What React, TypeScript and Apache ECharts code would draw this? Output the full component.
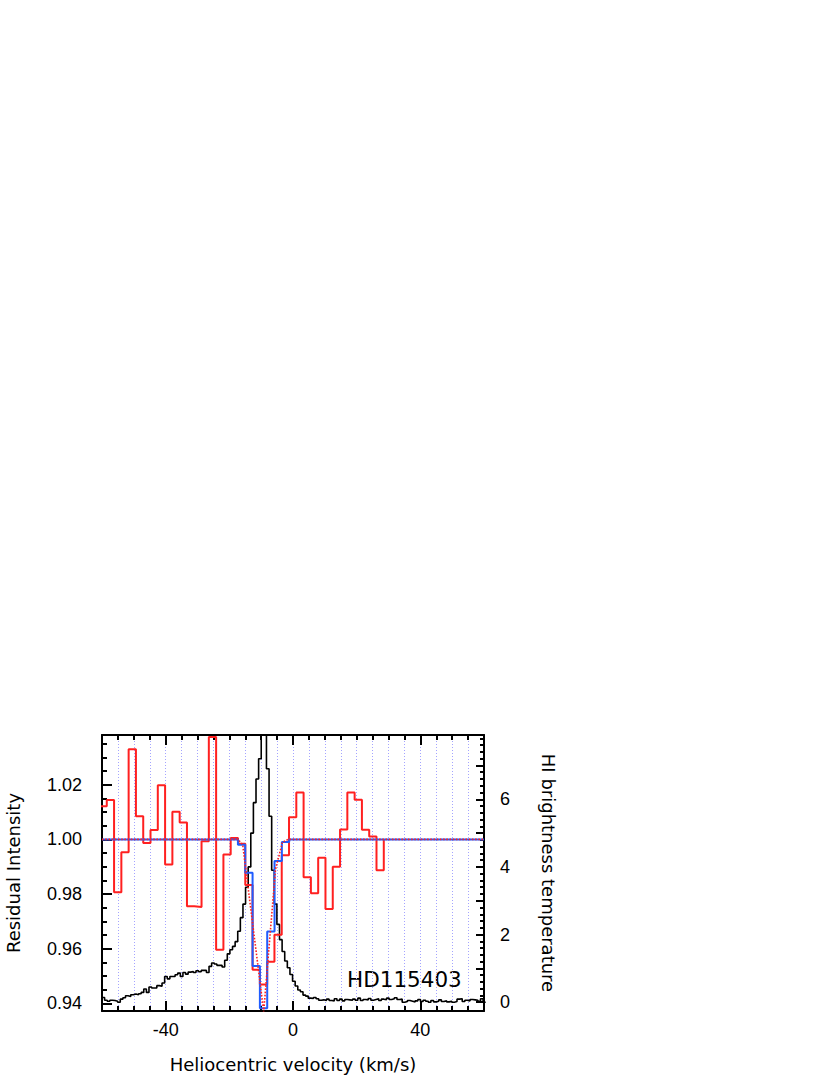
import React, { useEffect, useRef } from "react";
import * as echarts from "echarts";

// ---- Residual intensity (red histogram), bins of 2.29 km/s starting at -60.79
const RED_START = -60.79;
const RED_WIDTH = 2.29;
const redValues = [
  1.0121, 1.0144, 0.9807, 0.9953, 1.033, 1.0085, 0.9987, 1.0034, 1.0198, 0.9908,
  1.0101, 1.0062, 0.9755, 0.9753, 0.9993, 1.0375, 0.9596, 0.9945, 1.0005, 0.9984,
  0.9833, 0.9523, 0.9469, 0.9552, 0.9651, 0.9942, 1.0081, 1.0172, 0.9861, 0.9803,
  0.9933, 0.9745, 0.99, 1.0036, 1.0172, 1.0145, 1.0035, 1.0011, 0.9887,
];
const RED_END_VALUE = 1.0;

// ---- Model (blue step) at instrument bins
const blueVelocity = [-60, -17.3, -15.0, -12.7, -10.4, -8.1, -5.8, -3.5, -1.2, 60];
const blueValues = [1.0, 0.998, 0.9878, 0.9537, 0.9382, 0.9663, 0.9921, 0.999, 1.0, 1.0];

// ---- Intrinsic model (red dotted)
const dottedVelocity = [-60, -17.3, -15.8, -9.2, -5.5, -3.3, -1.5, 60];
const dottedValues = [1.0, 1.0, 0.998, 0.937, 0.989, 0.999, 1.0, 1.0];

// ---- HI brightness temperature (black), channels of 0.82 km/s starting at -60
const HI_START = -60;
const HI_WIDTH = 0.82;
const hiTemp = [
  0.14, 0.06, 0.03, 0.06, 0.05, 0.03, 0.0, 0.09, 0.13, 0.19,
  0.17, 0.22, 0.24, 0.22, 0.25, 0.29, 0.39, 0.29, 0.45, 0.42,
  0.42, 0.49, 0.47, 0.57, 0.76, 0.69, 0.76, 0.76, 0.81, 0.86,
  0.76, 0.88, 0.83, 0.89, 0.91, 0.88, 0.93, 0.9, 0.94, 0.94,
  0.88, 1.06, 1.16, 1.13, 1.09, 1.09, 1.04, 1.24, 1.43, 1.55,
  1.65, 1.79, 2.1, 2.5, 2.9, 3.4, 4.0, 5.0, 5.9, 6.6,
  7.2, 8.2, 8.2, 6.9, 5.5, 3.9, 2.9, 2.3, 1.85, 1.5,
  1.22, 1.02, 0.82, 0.62, 0.48, 0.36, 0.31, 0.21, 0.18, 0.12,
  0.11, 0.14, 0.1, 0.06, 0.07, 0.05, 0.09, 0.05, 0.04, 0.1,
  0.05, 0.09, 0.04, 0.08, 0.07, 0.06, 0.09, 0.06, 0.12, 0.05,
  0.08, 0.07, 0.11, 0.06, 0.08, 0.1, 0.05, 0.09, 0.07, 0.12,
  0.08, 0.1, 0.13, 0.08, 0.09, 0.0, 0.02, 0.05, 0.03, 0.01,
  0.04, 0.08, 0.02, 0.06, 0.03, 0.0, 0.05, 0.01, 0.03, 0.07,
  0.02, 0.04, 0.01, 0.03, 0.0, 0.02, 0.09, 0.1, 0.02, 0.06,
  0.04, 0.08, 0.07, 0.06, 0.03, 0.1, 0.0,
];

// ---- Axes
const X_MIN = -60;
const X_MAX = 60;
const xLabels = [-40, 0, 40];
const leftMin = 0.9372;
const leftMax = 1.0382;
const leftLabels = [0.94, 0.96, 0.98, 1.0, 1.02];
const rightMin = -0.26;
const rightMax = 7.9;
const rightLabels = [0, 2, 4, 6];
const rightMajorTicks = [0, 1, 2, 3, 4, 5, 6, 7];

const LABEL = "HD115403";

function range(a: number, b: number, step: number): number[] {
  const out: number[] = [];
  const n = Math.round((b - a) / step);
  for (let i = 0; i <= n; i++) out.push(+(a + i * step).toFixed(6));
  return out;
}

export default function App() {
  const ref = useRef<HTMLDivElement>(null);
  useEffect(() => {
    document.body.style.margin = "0";
    if (!ref.current) return;
    const chart = echarts.init(ref.current, null, { renderer: "svg" });

    const redData: number[][] = redValues.map((v, i) => [RED_START + i * RED_WIDTH, v]);
    redData.push([RED_START + redValues.length * RED_WIDTH, RED_END_VALUE]);
    const hiData: number[][] = hiTemp.map((v, i) => [HI_START + i * HI_WIDTH, v]);
    hiData.push([HI_START + hiTemp.length * HI_WIDTH, hiTemp[hiTemp.length - 1]]);
    const blueData = blueVelocity.map((v, i) => [v, blueValues[i]]);
    const dottedData = dottedVelocity.map((v, i) => [v, dottedValues[i]]);

    const tickFont = { fontFamily: "Liberation Sans", fontSize: 18, color: "#000" };
    const nameFont = { fontFamily: "DejaVu Sans", fontSize: 18, color: "#000" };
    const frame = { show: true, onZero: false, lineStyle: { color: "#000", width: 2 } };
    const noLine = { show: false, onZero: false };

    const xAxisOf = (pos: string, ticks: number[], len: number, opts: any = {}) => ({
      type: "value",
      position: pos,
      min: X_MIN,
      max: X_MAX,
      axisLine: noLine,
      axisTick: {
        show: true,
        inside: true,
        length: len,
        customValues: ticks,
        lineStyle: { color: "#000", width: 2 },
      },
      axisLabel: { show: false },
      splitLine: { show: false },
      ...opts,
    });
    const yAxisOf = (pos: string, min: number, max: number, ticks: number[], len: number, opts: any = {}) => ({
      type: "value",
      position: pos,
      min,
      max,
      axisLine: noLine,
      axisTick: {
        show: true,
        inside: true,
        length: len,
        customValues: ticks,
        lineStyle: { color: "#000", width: 2 },
      },
      axisLabel: { show: false },
      splitLine: { show: false },
      ...opts,
    });

    const xMinor = range(-55, 55, 5);

    const option: any = {
      animation: false,
      backgroundColor: "#fff",
      grid: { left: 102, top: 735, width: 382, height: 276, containLabel: false },
      xAxis: [
        xAxisOf("bottom", xMinor, 5, {
          interval: 5,
          splitLine: { show: true, lineStyle: { color: "#a4a4ff", type: [1, 2], width: 1 } },
        }),
        xAxisOf("bottom", xLabels, 10, {
          axisLine: frame,
          axisLabel: { show: true, customValues: xLabels, margin: 10, ...tickFont },
          name: "Heliocentric velocity (km/s)",
          nameLocation: "middle",
          nameGap: 44,
          nameTextStyle: nameFont,
        }),
        xAxisOf("top", xLabels, 10, { axisLine: frame }),
        xAxisOf("top", xMinor, 5),
      ],
      yAxis: [
        yAxisOf("left", leftMin, leftMax, leftLabels, 10, {
          axisLine: frame,
          axisLabel: {
            show: true,
            customValues: leftLabels,
            formatter: (v: number) => v.toFixed(2),
            margin: 20,
            ...tickFont,
          },
          name: "Residual Intensity",
          nameLocation: "middle",
          nameRotate: 90,
          nameGap: 80,
          nameTextStyle: nameFont,
        }),
        yAxisOf("left", leftMin, leftMax, range(0.94, 1.035, 0.005), 5),
        yAxisOf("right", rightMin, rightMax, rightMajorTicks, 8, {
          axisLine: frame,
          axisLabel: { show: true, customValues: rightLabels, margin: 16, ...tickFont },
          name: "HI brightness temperature",
          nameLocation: "middle",
          nameRotate: -90,
          nameGap: 55,
          nameTextStyle: nameFont,
        }),
        yAxisOf("right", rightMin, rightMax, range(0, 7.8, 0.2), 4),
      ],
      series: [
        {
          name: "HI",
          type: "line",
          xAxisIndex: 0,
          yAxisIndex: 2,
          step: "end",
          data: hiData,
          showSymbol: false,
          clip: true,
          lineStyle: { color: "#000", width: 1.6 },
        },
        {
          name: "Residual",
          type: "line",
          xAxisIndex: 0,
          yAxisIndex: 0,
          step: "end",
          data: redData,
          showSymbol: false,
          clip: true,
          lineStyle: { color: "#ff2020", width: 2 },
        },
        {
          name: "Model",
          type: "line",
          xAxisIndex: 0,
          yAxisIndex: 0,
          step: "end",
          data: blueData,
          showSymbol: false,
          clip: true,
          lineStyle: { color: "#1f5cff", width: 2 },
        },
        {
          name: "Intrinsic",
          type: "line",
          xAxisIndex: 0,
          yAxisIndex: 0,
          data: dottedData,
          showSymbol: false,
          clip: true,
          lineStyle: { color: "#ff2020", width: 1.6, type: "dotted" },
        },
      ],
      graphic: [
        {
          type: "text",
          left: 347,
          top: 968,
          style: {
            text: LABEL,
            fontFamily: "DejaVu Sans",
            fontSize: 21.5,
            fill: "#000",
          },
        },
      ],
    };
    chart.setOption(option);
    return () => chart.dispose();
  }, []);
  return <div ref={ref} style={{ width: 830, height: 1075 }} />;
}
